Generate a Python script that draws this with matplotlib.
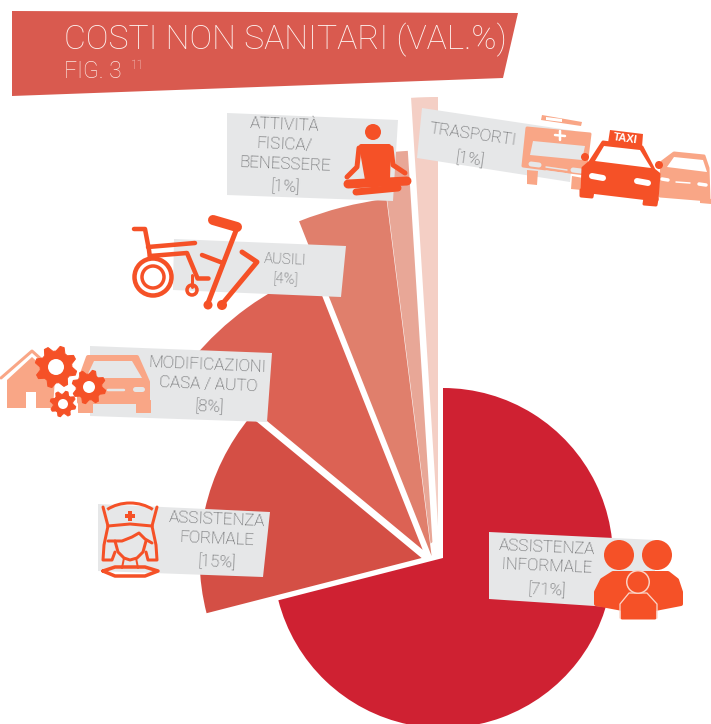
#Costi non sanitari - rose style pie with icons
import numpy as np
import matplotlib
matplotlib.use('Agg')
import matplotlib.pyplot as plt
from matplotlib.patches import Wedge, Polygon, Circle, Arc

#Data
categories = ['ASSISTENZA\nINFORMALE', 'ASSISTENZA\nFORMALE', 'MODIFICAZIONI\nCASA / AUTO',
              'AUSILI', 'ATTIVITÀ\nFISICA/\nBENESSERE', 'TRASPORTI']
values = [71, 15, 8, 4, 1, 1]

#Layout of the slices: each one is pushed a bit off the centre, that makes the white gaps
radii = [170, 222, 299, 360, 425, 429]
apex = [(443, 558), (421.6, 558), (422.7, 549.8), (431.6, 556), (434.5, 575), (438, 526)]
colors = ['#cf2132', '#d44f45', '#dc6254', '#e07f6c', '#e8a797', '#f4cfc5']
slice_z = [1.5, 1.4, 1.3, 1.2, 1.0, 1.0]

ORANGE = '#f55127'
LIGHT = '#f9a686'
GREY = '#e6e7e8'
TEXT = '#555658'
LABEL_FONT = ['Roboto', 'DejaVu Sans']

fig = plt.figure(figsize=(7.11, 7.24), dpi=100)
ax = fig.add_axes([0, 0, 1, 1])
ax.set_xlim(0, 711)
ax.set_ylim(724, 0)
ax.axis('off')

def px(w):
    return w * 0.72

def poly(pts, color, z=5, round_px=0):
    ax.add_patch(Polygon(pts, closed=True, fc=color, ec=color if round_px else 'none',
                         lw=px(round_px), joinstyle='round', zorder=z))

def line(pts, color=ORANGE, w=3, z=6):
    xs, ys = zip(*pts)
    ax.plot(xs, ys, color=color, lw=px(w), solid_capstyle='round', solid_joinstyle='round', zorder=z)

def circle(x, y, r, color=ORANGE, z=6):
    ax.add_patch(Circle((x, y), r, fc=color, ec='none', zorder=z))

def ring(x, y, r, w, color=ORANGE, z=6):
    ax.add_patch(Circle((x, y), r, fc='none', ec=color, lw=px(w), zorder=z))

def gear(x, y, r, hole, color=ORANGE, z=7, teeth=8):
    t = np.linspace(0, 2 * np.pi, teeth * 4, endpoint=False) + 0.2
    rr = np.where(np.arange(teeth * 4) % 4 < 2, r, r * 0.76)
    poly(np.c_[x + rr * np.cos(t), y + rr * np.sin(t)], color, z, 1)
    circle(x, y, hole, 'white', z + 0.1)

#Slices, clockwise from twelve o'clock (the y axis is flipped so angles grow clockwise)
start = -90.0
for val, r, col, c, z in zip(values, radii, colors, apex, slice_z):
    end = start + val * 3.6
    ax.add_patch(Wedge(c, r, start, end, fc=col, ec='none', zorder=z))
    start = end

#the two thin slices run into a white spot near the centre
poly([(424, 548), (443, 535), (443, 585), (424, 585)], 'white', 1.1)

#Title band
TITLE_FONT = ['Roboto', 'DejaVu Sans']
poly([(12, 11), (518, 13), (503, 78), (12, 96)], '#d95a4f', 3)
ax.text(64, 49, 'COSTI NON SANITARI (VAL.%)', color='#fdf1ee', fontsize=24.3, family=TITLE_FONT,
        fontweight='light', va='baseline', ha='left', zorder=4)
ax.text(64, 78, 'FIG. 3', color='#fbe6e1', fontsize=16.5, family=TITLE_FONT,
        fontweight='light', va='baseline', ha='left', zorder=4)
ax.text(131, 69, '11', color='#fbe6e1', fontsize=8.5, family=TITLE_FONT,
        fontweight='light', va='baseline', ha='left', zorder=4)

#Label boxes
poly([(489, 532), (655, 540), (655, 610), (489, 599)], GREY, 3)
poly([(98, 504), (270, 512), (263, 577), (98, 571)], GREY, 3)
poly([(90, 346), (272, 353), (267, 422), (90, 416)], GREY, 3)
poly([(174, 239), (346, 246), (341, 297), (173, 290)], GREY, 3)
poly([(227, 113), (398, 120), (393, 201), (227, 195)], GREY, 3)
poly([(422, 108), (575, 131), (570, 182), (417, 158)], GREY, 3)

def label(x, y, s, rot=-3, size=12.2):
    ax.text(x, y, s, color=TEXT, fontsize=size, family=LABEL_FONT, fontweight='light',
            ha='center', va='center', rotation=rot, rotation_mode='anchor', zorder=5)

lab_pos = [[(547, 548), (547, 566)], [(217, 520), (217, 539)], [(208, 365), (208, 385)],
           [(285, 260)], [(285, 125), (285, 145), (285, 164)], [(473, 135)]]
pct_pos = [(547, 590), (217, 562), (209, 407), (286, 280), (285, 187), (470, 159)]
rots = [-2.5, -2.5, -2.5, -2.5, -2.5, -8]
for cat, val, pos, pp, rot in zip(categories, values, lab_pos, pct_pos, rots):
    size = 10.6 if cat == 'AUSILI' else 12.2
    for (x, y), part in zip(pos, cat.split('\n')):
        label(x, y, part, rot, size)
    label(pp[0], pp[1], '[%d%%]' % val, rot, size)

#Family icon
circle(619, 555, 15)
circle(657, 555, 15)
poly([(596, 604), (596, 592), (602, 580), (613, 573), (668, 573), (677, 580), (681, 592), (681, 604), (650, 610), (628, 610)],
     ORANGE, 6, 4)
poly([(622, 618), (622, 604), (630, 595), (646, 595), (655, 604), (655, 618)], ORANGE, 6.2, 3)
line([(620, 618), (620, 604), (629, 593), (647, 593), (657, 604), (657, 618)], '#fbd3c6', 1.3, 6.3)
circle(638, 582, 12, '#fbd3c6', 6.3)
circle(638, 582, 10.5, ORANGE, 6.4)

#Meditating figure
circle(373, 132, 8)
poly([(361, 146), (389, 146), (388, 180), (367, 180)], ORANGE, 6, 4)
line([(359, 148), (357, 167), (347, 177)], w=5)
line([(391, 148), (393, 165), (405, 173)], w=5)
line([(348, 184), (407, 181)], w=9)
line([(356, 192), (398, 188)], w=7)

#Wheelchair and crutches
ring(153, 277, 18.5, 4.5)
ring(153, 277, 11, 3.5)
line([(134, 229), (145, 229), (149, 250), (150, 258)], w=4.5)
line([(148, 247), (195, 243)], w=4.5)
line([(150, 256), (187, 253), (197, 277)], w=4.5)
line([(197, 278), (208, 278)], w=4.5)
line([(192, 275), (192, 287)], w=3)
ring(192, 290, 5, 3.5)
line([(213, 220), (237, 227)], w=10)
line([(237, 228), (208, 303)], w=5)
circle(208, 305, 4.5)
line([(202, 255), (223, 263)], w=4.5)
line([(242, 252), (257, 262), (223, 303)], w=5)
circle(222, 305, 5)

#House, car and gears
poly([(7, 380), (32, 357), (55, 378), (53, 408), (7, 408)], LIGHT, 6)
line([(1, 378), (32, 351), (42, 360)], LIGHT, 3)
poly([(26, 392), (36, 392), (36, 408), (26, 408)], 'white', 6.1)
poly([(88, 357), (137, 357), (148, 382), (148, 402), (79, 402), (79, 382)], LIGHT, 6, 4)
poly([(94, 361), (132, 361), (142, 378), (86, 378)], GREY, 6.1)
line([(135, 389), (142, 389)], GREY, 5, 6.2)
line([(108, 390), (124, 390)], GREY, 2.5, 6.2)
poly([(136, 400), (150, 400), (150, 412), (136, 412)], LIGHT, 6, 1)
poly([(78, 400), (92, 400), (92, 412), (78, 412)], LIGHT, 6, 1)
gear(56, 367, 21, 8)
gear(89, 387, 17, 6)
gear(63, 404, 13, 5)

#Nurse
ax.add_patch(Arc((130, 530), 70, 54, theta1=222, theta2=318, ec=ORANGE, lw=px(3), zorder=6))
line([(103, 507), (108, 526)], w=3)
line([(157, 507), (152, 526)], w=3)
line([(108, 526), (130, 524), (152, 526)], w=3)
poly([(128, 511), (132, 511), (132, 514), (135, 514), (135, 518), (132, 518), (132, 521), (128, 521), (128, 518), (125, 518), (125, 514), (128, 514)], ORANGE, 6)
line([(108, 526), (104, 545), (103, 560), (112, 560), (115, 552)], w=3)
line([(152, 526), (156, 545), (157, 560), (148, 560), (146, 552)], w=3)
line([(108, 541), (122, 541), (132, 537), (139, 533), (145, 539), (152, 543)], w=3)
line([(115, 541), (118, 552), (124, 558), (130, 560), (137, 558), (143, 552), (146, 541)], w=3)
line([(124, 558), (122, 568)], w=2)
line([(136, 558), (138, 568)], w=2)
line([(103, 571), (115, 567), (145, 567), (158, 571), (145, 576), (115, 576), (103, 571)], w=3.5)

#Vehicles
poly([(527, 128), (590, 134), (585, 174), (523, 166)], LIGHT, 6, 3)
poly([(533, 141), (585, 146), (582, 160), (530, 155)], GREY, 6.1)
poly([(527, 170), (538, 171), (537, 185), (527, 184)], LIGHT, 6)
poly([(572, 176), (583, 178), (582, 190), (571, 189)], LIGHT, 6)
poly([(542, 115), (582, 122), (581, 126), (541, 120)], LIGHT, 6)
poly([(546, 117), (562, 119), (562, 122), (546, 120)], 'white', 6.1)
line([(555, 135), (565, 136)], 'white', 2.5, 6.2)
line([(560, 131), (560, 140)], 'white', 2.5, 6.2)
line([(531, 164), (539, 165)], GREY, 5, 6.2)
line([(573, 170), (581, 171)], GREY, 5, 6.2)
line([(546, 167), (567, 170)], GREY, 1.5, 6.2)
line([(546, 171), (567, 174)], GREY, 1.5, 6.2)

poly([(674, 153), (704, 156), (708, 168), (709, 200), (660, 196), (662, 162)], LIGHT, 6, 3)
poly([(674, 157), (703, 160), (707, 172), (667, 167)], 'white', 6.1)
poly([(700, 198), (711, 199), (711, 204), (700, 203)], LIGHT, 6)
line([(662, 179), (668, 180)], 'white', 3.5, 6.2)
line([(699, 184), (706, 185)], 'white', 3.5, 6.2)
line([(676, 182), (690, 183)], 'white', 1.5, 6.2)

poly([(603, 142), (642, 147), (654, 170), (659, 174), (657, 200), (582, 191), (583, 168), (590, 162)], ORANGE, 7, 3)
poly([(581, 190), (593, 191), (592, 197), (581, 196)], ORANGE, 7, 3)
poly([(645, 198), (657, 199), (656, 205), (644, 204)], ORANGE, 7, 3)
circle(585, 157, 4, ORANGE, 7)
circle(659, 165, 4, ORANGE, 7)
poly([(604, 146), (640, 150), (651, 168), (595, 161)], 'white', 7.1)
line([(592, 176), (603, 178)], 'white', 6, 7.2)
line([(637, 181), (648, 183)], 'white', 6, 7.2)
poly([(610, 130), (643, 134), (642, 147), (608, 143)], ORANGE, 7.3)
ax.text(625.5, 138.5, 'TAXI', color='white', fontsize=8, fontweight='bold', family=['Liberation Sans', 'DejaVu Sans'],
        ha='center', va='center', rotation=-8, rotation_mode='anchor', zorder=7.5)

fig.savefig('out.png', dpi=100)
